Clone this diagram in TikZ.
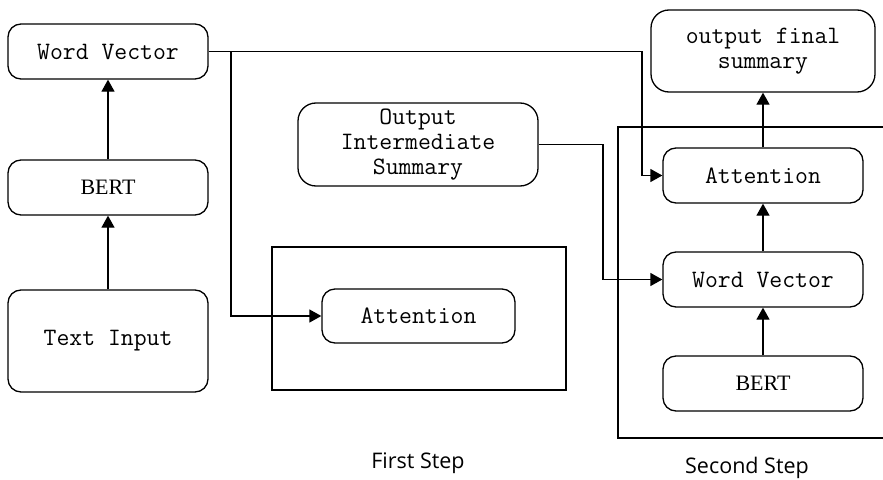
\documentclass[tikz,border=0pt]{standalone}
\usepackage{fontspec}
\newfontfamily\bertfont{Liberation Serif}
\newfontfamily\labfont{Open Sans}
\usetikzlibrary{arrows.meta}
\begin{document}
\begin{tikzpicture}[x=1pt,y=-1pt,
  rbox/.style={draw, line width=1.3pt, rounded corners=13pt, minimum width=200pt, minimum height=55pt, inner sep=0pt, align=center,
    font=\ttfamily\fontsize{25}{25}\selectfont},
  bbox/.style={rbox, font=\bertfont\fontsize{22}{24}\selectfont},
  arr/.style={line width=1.3pt, -{Triangle[length=12pt,width=13pt]}},
  ln/.style={line width=1.3pt},
  lab/.style={font=\labfont\fontsize{21.5}{24}\selectfont}]
\useasboundingbox (0,0) rectangle (883,479);
% left column
\node[rbox] (wv1) at (108,51.5) {Word Vector};
\node[bbox] (bert1) at (108,187.5) {BERT};
\node[rbox, minimum height=102pt] (ti) at (108,341) {Text Input};
% first step
\node[draw, line width=1.3pt, minimum width=294pt, minimum height=143pt, inner sep=0pt] (box1) at (419,318.5) {};
\node[rbox, minimum width=193pt, minimum height=54pt] (att1) at (418.5,316) {Attention};
\node[rbox, minimum width=240pt, minimum height=83pt, rounded corners=18pt] (ois) at (418,144.5) {Output\\Intermediate\\Summary};
% second step
\coordinate (b2a) at (883,127);
\coordinate (b2b) at (618,127);
\coordinate (b2c) at (618,438);
\coordinate (b2d) at (883,438);
\draw[ln] (b2a) -- (b2b) -- (b2c) -- (b2d);
\node[rbox, minimum width=224pt, minimum height=82pt, rounded corners=18pt] (ofs) at (763,51) {output final\\summary};
\node[rbox] (att2) at (763,175.5) {Attention};
\node[rbox] (wv2) at (763,279.5) {Word Vector};
\node[bbox] (bert2) at (763,383.5) {BERT};
% labels
\node[lab] (l1) at (418,463) {First Step};
\node[lab] (l2) at (747,468) {Second Step};
% connectors
\draw[arr] (ti.north) -- (bert1.south);
\draw[arr] (bert1.north) -- (wv1.south);
\coordinate (c1) at (642,51.5);
\coordinate (j) at (231,51.5);
\draw[arr] (wv1.east) -- (c1) |- (att2.west);
\draw[arr] (j) |- (att1.west);
\coordinate (c2) at (603,144.5);
\draw[arr] (ois.east) -- (c2) |- (wv2.west);
\draw[arr] (bert2.north) -- (wv2.south);
\draw[arr] (wv2.north) -- (att2.south);
\draw[arr] (att2.north) -- (ofs.south);
\end{tikzpicture}
\end{document}
